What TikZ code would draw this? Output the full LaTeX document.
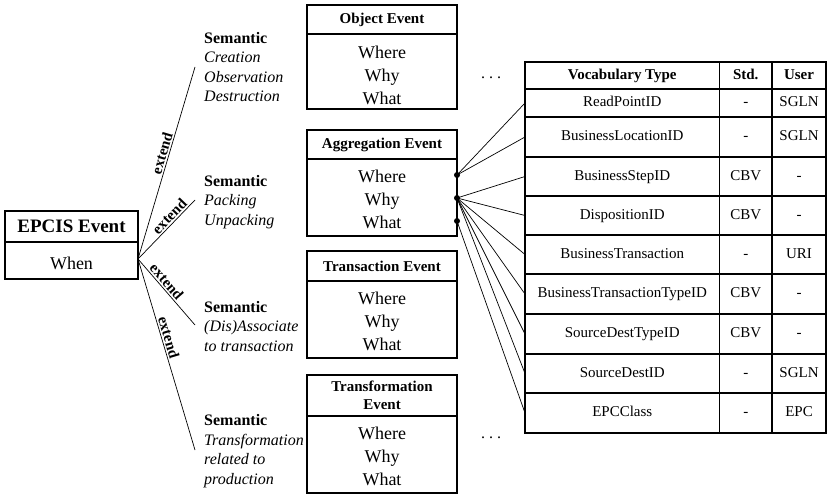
\documentclass[tikz,border=0pt]{standalone}
\usepackage{fontspec}
\setmainfont{Liberation Serif}
\begin{document}
\begin{tikzpicture}[x=1pt,y=-1pt,
  box/.style={draw, line width=1.3pt, inner sep=0pt, outer sep=0pt, align=center},
  ttl/.style={box, font=\fontsize{15}{18}\selectfont\bfseries},
  body/.style={box, font=\fontsize{18}{23}\selectfont},
  attr/.style={inner sep=0pt, align=center, font=\fontsize{18}{23}\selectfont},
  sem/.style={anchor=west, inner sep=0pt, align=left, font=\fontsize{16}{19.5}\selectfont},
  ext/.style={font=\fontsize{15}{15}\selectfont\bfseries, inner sep=1.5pt, sloped, above},
  conn/.style={line width=0.7pt},
  pin/.style={circle, fill, inner sep=0pt, minimum size=6pt},
  cell/.style={draw, line width=1.2pt, inner sep=0pt, outer sep=0pt, anchor=north west,
               text height=10.5pt, text depth=3pt, font=\fontsize{15}{17}\selectfont},
  more/.style={inner sep=0pt, font=\fontsize{16}{16}\selectfont}
]
\useasboundingbox (0,0) rectangle (827,494);

% base event
\node[box, anchor=north west, minimum width=133pt, minimum height=31pt,
      font=\fontsize{19}{21}\selectfont\bfseries] (epT) at (5,211) {EPCIS Event};
\node[box, anchor=north west, minimum width=133pt, minimum height=37pt] (epB) at (epT.south west) {};
\node[attr] (epA) at ([yshift=-3pt]epB.center) {When};

% event types
\node[ttl, anchor=north west, minimum width=150pt, minimum height=29pt] (objT) at (307,5) {Object Event};
\node[box, anchor=north west, minimum width=150pt, minimum height=75pt] (objB) at (objT.south west) {};
\node[attr] (objA) at ([yshift=-4pt]objB.center) {Where\\Why\\What};

\node[ttl, anchor=north west, minimum width=150pt, minimum height=29pt] (aggT) at (307,130) {Aggregation Event};
\node[box, anchor=north west, minimum width=150pt, minimum height=77pt] (aggB) at (aggT.south west) {};
\node[attr] (aggA) at ([yshift=-1.5pt]aggB.center) {Where\\Why\\What};

\node[ttl, anchor=north west, minimum width=150pt, minimum height=30pt] (trnT) at (307,251) {Transaction Event};
\node[box, anchor=north west, minimum width=150pt, minimum height=77pt] (trnB) at (trnT.south west) {};
\node[attr] (trnA) at ([yshift=-1.5pt]trnB.center) {Where\\Why\\What};

\node[ttl, anchor=north west, minimum width=150pt, minimum height=41pt] (tfmT) at (307,375) {Transformation\\Event};
\node[box, anchor=north west, minimum width=150pt, minimum height=77pt] (tfmB) at (tfmT.south west) {};
\node[attr] (tfmA) at ([yshift=-2pt]tfmB.center) {Where\\Why\\What};

% semantics
\node[sem] (sem1) at (204,67) {\textbf{Semantic}\\\textit{Creation}\\\textit{Observation}\\\textit{Destruction}};
\node[sem] (sem2) at (204,202) {\textbf{Semantic}\\\textit{Packing}\\\textit{Unpacking}};
\node[sem] (sem3) at (204,326.5) {\textbf{Semantic}\\\textit{(Dis)Associate}\\\textit{to transaction}};
\node[sem] (sem4) at (204,451) {\textbf{Semantic}\\\textit{Transformation}\\\textit{related to}\\\textit{production}};

% extension lines
\coordinate (apex) at (138,259);
\coordinate (e1) at (195,67);
\coordinate (e2) at (195,200);
\coordinate (e3) at (195,325);
\coordinate (e4) at (195,450);
\draw[conn] (apex) -- node[ext, pos=0.54] {extend} (e1);
\draw[conn] (apex) -- node[ext, pos=0.64] {extend} (e2);
\draw[conn] (apex) -- node[ext, pos=0.41] {extend} (e3);
\draw[conn] (apex) -- node[ext, pos=0.42] {extend} (e4);

% continuation marks
\node[more] (more1) at (491,78) {.\hspace{4pt}.\hspace{4pt}.};
\node[more] (more2) at (491,438) {.\hspace{4pt}.\hspace{4pt}.};

% vocabulary table
\newcommand\vrow[6]{%
  \node[cell, minimum width=194.5pt, minimum height={(#3-#2)*1pt}] (#1) at (525,#2) {#4};
  \node[cell, minimum width=52.5pt, minimum height={(#3-#2)*1pt}] (#1s) at (719.5,#2) {#5};
  \node[cell, minimum width=54pt, minimum height={(#3-#2)*1pt}] (#1u) at (772,#2) {#6};}
\vrow{hd}{62}{89}{\textbf{Vocabulary Type}}{\textbf{Std.}}{\textbf{User}}
\vrow{r1}{89}{117}{ReadPointID}{-}{SGLN}
\vrow{r2}{117}{157}{BusinessLocationID}{-}{SGLN}
\vrow{r3}{157}{196}{BusinessStepID}{CBV}{-}
\vrow{r4}{196}{235}{DispositionID}{CBV}{-}
\vrow{r5}{235}{274}{BusinessTransaction}{-}{URI}
\vrow{r6}{274}{314}{BusinessTransactionTypeID}{CBV}{-}
\vrow{r7}{314}{354}{SourceDestTypeID}{CBV}{-}
\vrow{r8}{354}{393}{SourceDestID}{-}{SGLN}
\vrow{r9}{393}{433}{EPCClass}{-}{EPC}

% attribute pins and their vocabulary links
\node[pin] (pWhere) at (457,175) {};
\node[pin] (pWhy) at (457,198) {};
\node[pin] (pWhat) at (457,221) {};
\foreach \r in {r1,r2} \draw[conn] (pWhere.center) -- (\r.west);
\foreach \r in {r3,r4,r5,r6,r7,r8} \draw[conn] (pWhy.center) -- (\r.west);
\draw[conn] (pWhat.center) -- (r9.west);
\end{tikzpicture}
\end{document}
